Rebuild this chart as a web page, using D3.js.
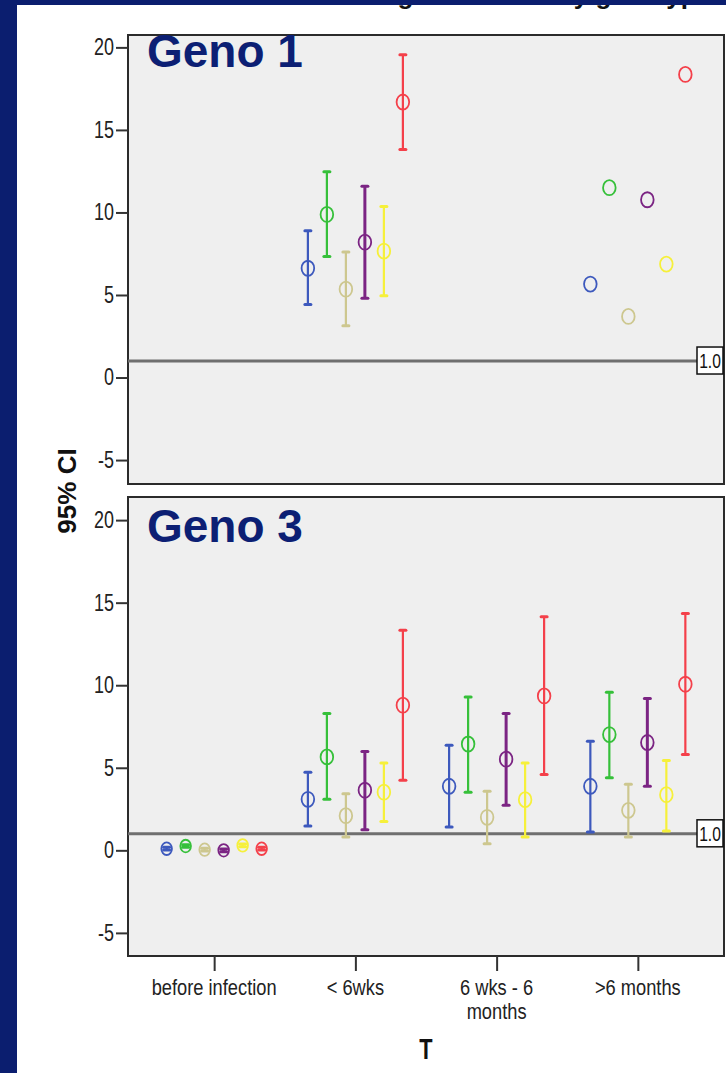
<!DOCTYPE html>
<html>
<head>
<meta charset="utf-8">
<script src="https://cdnjs.cloudflare.com/ajax/libs/d3/7.8.5/d3.min.js"></script>
<style>
  body { margin: 0; background: #fff; }
  svg { display: block; }
</style>
</head>
<body>
<div id="chart"></div>
<script>
// categories on the x axis and their (wrapped) tick labels
const categories = ["before infection", "< 6wks", "6 wks - 6 months", ">6 months"];
const categoryLines = [["before infection"], ["< 6wks"], ["6 wks - 6", "months"], [">6 months"]];
const seriesNames = ["S1", "S2", "S3", "S4", "S5", "S6"];
const seriesColors = ["#3d59bd", "#36c03a", "#cdc78f", "#7b2483", "#f6f03a", "#f4404a"];
const yTicks = [-5, 0, 5, 10, 15, 20];
const refValue = 1.0;

// Geno 1: mean / lower / upper per series, one entry per category (null = no value)
const geno1Mean = [
  [null, 6.62, null, 5.66],
  [null, 9.88, null, 11.5],
  [null, 5.35, null, 3.70],
  [null, 8.20, null, 10.77],
  [null, 7.66, null, 6.87],
  [null, 16.69, null, 18.36]
];
const geno1Lower = [
  [null, 4.42, null, null],
  [null, 7.33, null, null],
  [null, 3.13, null, null],
  [null, 4.81, null, null],
  [null, 4.95, null, null],
  [null, 13.82, null, null]
];
const geno1Upper = [
  [null, 8.89, null, null],
  [null, 12.47, null, null],
  [null, 7.60, null, null],
  [null, 11.58, null, null],
  [null, 10.36, null, null],
  [null, 19.56, null, null]
];

// Geno 3
const geno3Mean = [
  [0.10, 3.09, 3.88, 3.88],
  [0.26, 5.66, 6.44, 7.01],
  [0.04, 2.10, 2.00, 2.42],
  [0.00, 3.64, 5.52, 6.53],
  [0.30, 3.52, 3.07, 3.37],
  [0.10, 8.79, 9.35, 10.06]
];
const geno3Lower = [
  [0.02, 1.47, 1.41, 1.11],
  [0.18, 3.09, 3.52, 4.40],
  [-0.04, 0.81, 0.40, 0.81],
  [-0.08, 1.25, 2.73, 3.88],
  [0.22, 1.74, 0.81, 1.17],
  [0.02, 4.24, 4.59, 5.80]
];
const geno3Upper = [
  [0.18, 4.73, 6.36, 6.61],
  [0.34, 8.28, 9.29, 9.58],
  [0.12, 3.43, 3.58, 4.00],
  [0.08, 5.98, 8.28, 9.19],
  [0.38, 5.29, 5.29, 5.44],
  [0.18, 13.33, 14.14, 14.35]
];

const width = 726, height = 1073;
const frameColor = "#0b1e6f";
const left = 128, right = 724;
const font = "Liberation Sans, Arial, sans-serif";

// squeeze a text horizontally (the chart uses a condensed face)
const narrow = (sel, k) => sel.each(function() {
  const len = this.getComputedTextLength();
  d3.select(this).attr("textLength", len * k).attr("lengthAdjust", "spacingAndGlyphs");
});

const svg = d3.select("#chart").append("svg")
  .attr("width", width)
  .attr("height", height);

// cut-off title at the very top (only descenders visible)
svg.append("text")
  .attr("x", 711)
  .attr("y", 4)
  .attr("text-anchor", "end")
  .attr("font-family", font)
  .attr("font-weight", "bold")
  .attr("font-size", 26)
  .attr("fill", "#111")
  .text("Fold change over time by genotype");

// dark blue slide frame
svg.append("rect").attr("x", 0).attr("y", 0).attr("width", 17).attr("height", height).attr("fill", frameColor);
svg.append("rect").attr("x", 0).attr("y", 0).attr("width", width).attr("height", 5).attr("fill", frameColor);

const x = d3.scalePoint()
  .domain(categories)
  .range([left, right])
  .padding(0.61);

const offset = d3.scalePoint()
  .domain(seriesNames)
  .range([-47.5, 47.5]);

const panels = [
  {label: "Geno 1", top: 35, bottom: 484, domain: [-6.45, 20.75], labelY: 67,
   mean: geno1Mean, lower: geno1Lower, upper: geno1Upper, xAxis: false},
  {label: "Geno 3", top: 497, bottom: 956, domain: [-6.4, 21.4], labelY: 542,
   mean: geno3Mean, lower: geno3Lower, upper: geno3Upper, xAxis: true}
];

panels.forEach(p => {
  const y = d3.scaleLinear().domain(p.domain).range([p.bottom, p.top]);
  const g = svg.append("g");

  g.append("rect")
    .attr("x", left)
    .attr("y", p.top)
    .attr("width", right - left)
    .attr("height", p.bottom - p.top)
    .attr("fill", "#efefef")
    .attr("stroke", "#2b2b2b")
    .attr("stroke-width", 2);

  // y axis
  const yAxis = g.append("g")
    .attr("transform", `translate(${left},0)`)
    .call(d3.axisLeft(y).tickValues(yTicks).tickFormat(d => String(d)).tickSize(12).tickPadding(2));
  yAxis.select(".domain").remove();
  yAxis.selectAll(".tick line").attr("stroke", "#333").attr("stroke-width", 2);
  yAxis.selectAll(".tick text")
    .attr("font-size", 23)
    .attr("fill", "#222")
    .attr("font-family", font)
    .call(narrow, 0.78);

  // reference line with label box
  g.append("line")
    .attr("x1", left)
    .attr("x2", right - 27)
    .attr("y1", y(refValue))
    .attr("y2", y(refValue))
    .attr("stroke", "#6f6f6f")
    .attr("stroke-width", 3);
  g.append("rect")
    .attr("x", right - 27)
    .attr("y", y(refValue) - 14)
    .attr("width", 26)
    .attr("height", 27)
    .attr("fill", "#fff")
    .attr("stroke", "#111")
    .attr("stroke-width", 1.5);
  g.append("text")
    .attr("x", right - 14)
    .attr("y", y(refValue) + 7)
    .attr("text-anchor", "middle")
    .attr("font-size", 20)
    .attr("fill", "#111")
    .attr("font-family", font)
    .text(refValue.toFixed(1))
    .call(narrow, 0.78);

  // panel title
  g.append("text")
    .attr("x", 147)
    .attr("y", p.labelY)
    .attr("font-family", font)
    .attr("font-weight", "bold")
    .attr("font-size", 46)
    .attr("fill", "#0c1f74")
    .text(p.label);

  // error bars and means
  seriesNames.forEach((s, si) => {
    const color = seriesColors[si];
    const sg = g.append("g");
    categories.forEach((c, ci) => {
      const m = p.mean[si][ci];
      if (m == null) return;
      const cx = x(c) + offset(s);
      const lo = p.lower[si][ci], hi = p.upper[si][ci];
      if (lo != null && hi != null) {
        sg.append("line")
          .attr("x1", cx).attr("x2", cx)
          .attr("y1", y(lo)).attr("y2", y(hi))
          .attr("stroke", color)
          .attr("stroke-width", si === 3 ? 3 : 2.2);
        [lo, hi].forEach(v => {
          sg.append("line")
            .attr("x1", cx - 3).attr("x2", cx + 3)
            .attr("y1", y(v)).attr("y2", y(v))
            .attr("stroke", color)
            .attr("stroke-width", 3)
            .attr("stroke-linecap", "round");
        });
      }
      const small = ci === 0;
      sg.append("ellipse")
        .attr("cx", cx)
        .attr("cy", y(m))
        .attr("rx", small ? 5.3 : 6.3)
        .attr("ry", small ? 6.3 : 7.5)
        .attr("fill", "none")
        .attr("stroke", color)
        .attr("stroke-width", 1.8);
    });
  });

  if (p.xAxis) {
    const xAxis = g.append("g")
      .attr("transform", `translate(0,${p.bottom})`)
      .call(d3.axisBottom(x).tickSize(15).tickFormat(""));
    xAxis.select(".domain").remove();
    xAxis.selectAll(".tick line").attr("stroke", "#333").attr("stroke-width", 2);
    categories.forEach((c, ci) => {
      categoryLines[ci].forEach((line, li) => {
        g.append("text")
          .attr("x", x(c))
          .attr("y", p.bottom + 39 + li * 24)
          .attr("text-anchor", "middle")
          .attr("font-size", 22)
          .attr("fill", "#222")
          .attr("font-family", font)
          .text(line)
          .call(narrow, 0.83);
      });
    });
  }
});

// axis titles
svg.append("text")
  .attr("transform", "translate(76,491) rotate(-90)")
  .attr("text-anchor", "middle")
  .attr("font-family", font)
  .attr("font-weight", "bold")
  .attr("font-size", 26)
  .attr("fill", "#111")
  .text("95% CI");

svg.append("text")
  .attr("x", (left + right) / 2)
  .attr("y", 1059)
  .attr("text-anchor", "middle")
  .attr("font-family", font)
  .attr("font-weight", "bold")
  .attr("font-size", 29)
  .attr("fill", "#111")
  .text("T")
  .call(narrow, 0.75);
</script>
</body>
</html>
